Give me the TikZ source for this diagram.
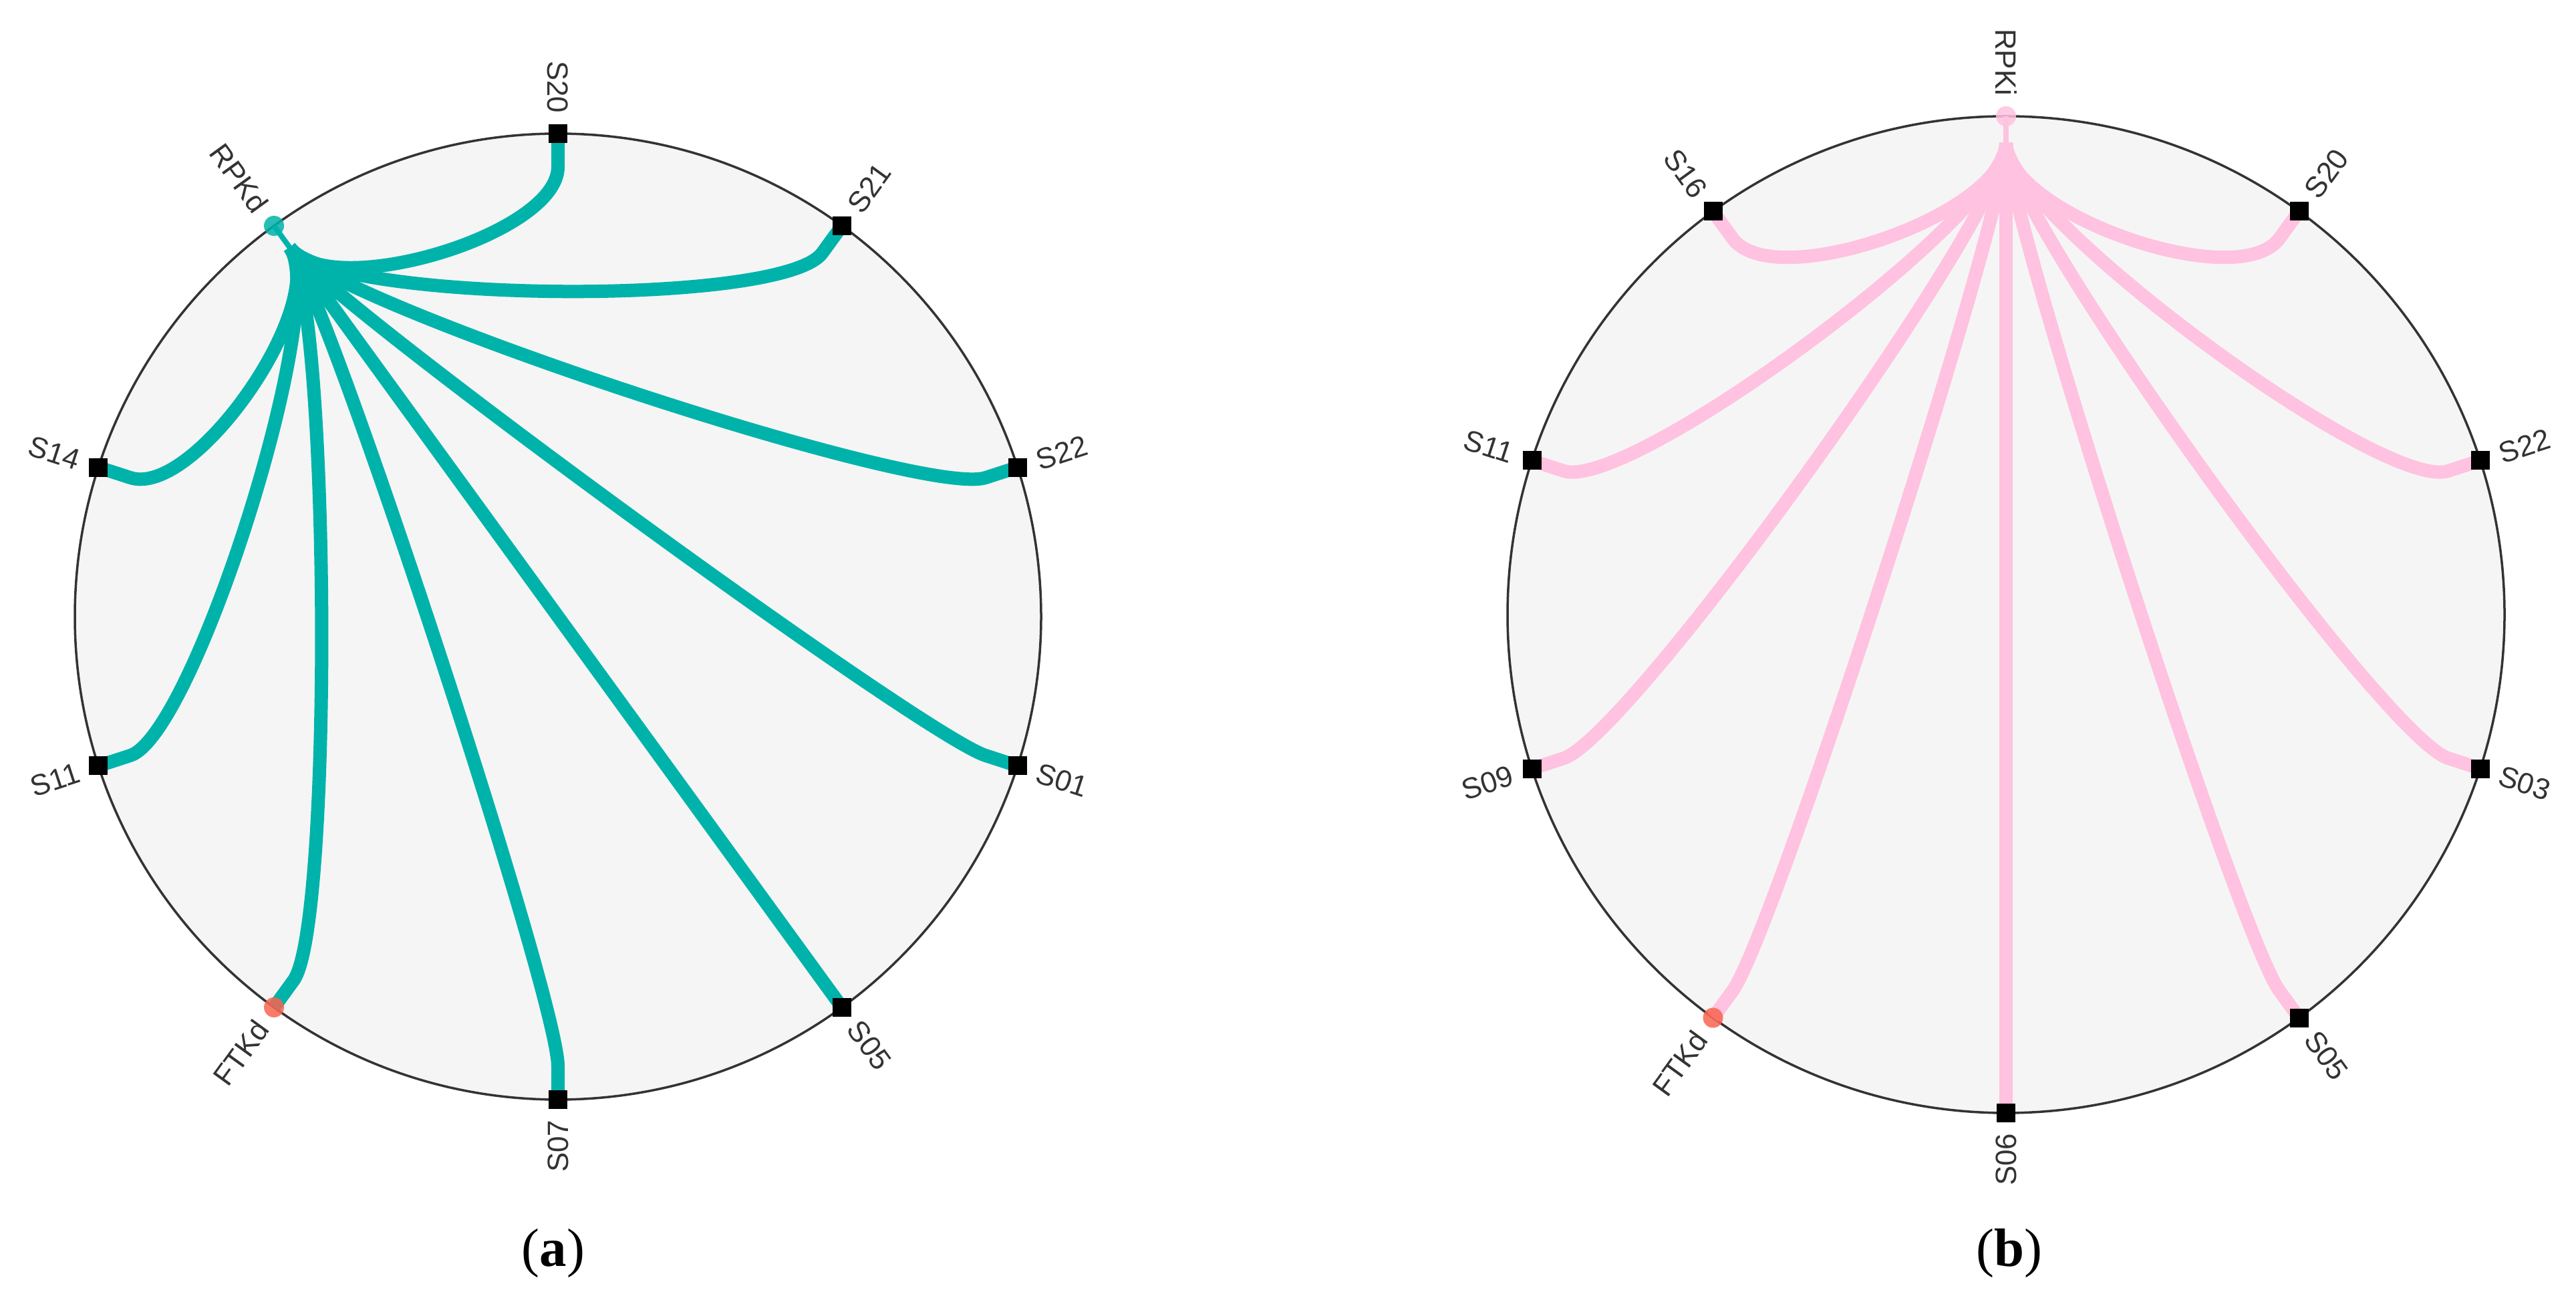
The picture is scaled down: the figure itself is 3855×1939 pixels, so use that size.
\documentclass[tikz,border=0pt]{standalone}
\usepackage{fontspec}
\setmainfont{Liberation Serif}
\newfontfamily\labelfont{Liberation Sans}
\usetikzlibrary{calc}
\definecolor{tealE}{RGB}{0,179,170}
\definecolor{pinkE}{RGB}{255,194,224}
\definecolor{ftkC}{RGB}{250,100,80}
\definecolor{ringC}{RGB}{51,51,51}
\definecolor{discC}{RGB}{245,245,245}
\definecolor{labC}{RGB}{51,51,51}
\begin{document}
\begin{tikzpicture}[x=0.01cm,y=0.01cm,
  disc/.style={fill=discC, draw=ringC, line width=0.035cm},
  sq/.style={rectangle, fill=black, draw=none, minimum size=0.28cm, inner sep=0pt, outer sep=0pt},
  dot/.style={circle, draw=none, minimum size=0.30cm, inner sep=0pt, outer sep=0pt, fill opacity=0.85},
  lbl/.style={font=\labelfont\fontsize{12.5}{15}\selectfont, text=labC, inner sep=0pt},
  captxt/.style={font=\fontsize{23}{27}\selectfont, anchor=base, inner sep=0pt},
  edgeA/.style={draw=tealE, line width=0.20cm, line join=round},
  edgeB/.style={draw=pinkE, line width=0.20cm, line join=round},
  neckA/.style={draw=tealE, line width=0.08cm},
  neckB/.style={draw=pinkE, line width=0.08cm}
]
\useasboundingbox (0,0) rectangle (3855,1939);
\fill[white] (0,0) rectangle (3855,1939);

% ---------------- (a) ----------------
\coordinate (Oa) at (835,1016);
\draw[disc] (Oa) circle (723);
\coordinate (a-H) at ($(Oa)+(126:683)$);
\node[sq] (a-S22) at ($(Oa)+(18:723)$) {};
\node[sq] (a-S21) at ($(Oa)+(54:723)$) {};
\node[sq] (a-S20) at ($(Oa)+(90:723)$) {};
\node[sq] (a-S14) at ($(Oa)+(162:723)$) {};
\node[sq] (a-S11) at ($(Oa)+(198:723)$) {};
\node[sq] (a-S07) at ($(Oa)+(270:723)$) {};
\node[sq] (a-S05) at ($(Oa)+(306:723)$) {};
\node[sq] (a-S01) at ($(Oa)+(342:723)$) {};
\coordinate (a-RPKdpos) at ($(Oa)+(126:723)$);
\coordinate (a-FTKdpos) at ($(Oa)+(234:723)$);

\draw[neckA] (a-RPKdpos) -- (a-H);
\foreach \ang/\nm in {18/S22,54/S21,90/S20,162/S14,198/S11,270/S07,306/S05,342/S01}{
  \draw[edgeA] (a-H) .. controls ($(Oa)+(126:580.6)$) and ($(Oa)+(\ang:572)$) .. ($(Oa)+(\ang:673)$) -- (a-\nm.center);
}
\draw[edgeA] (a-H) .. controls ($(Oa)+(126:580.6)$) and ($(Oa)+(234:572)$) .. ($(Oa)+(234:673)$) -- (a-FTKdpos);
\foreach \ang/\nm in {18/S22,54/S21,90/S20,162/S14,198/S11,270/S07,306/S05,342/S01}{
  \node[sq] at (a-\nm) {};
}
\node[dot, fill=tealE] (a-RPKd) at (a-RPKdpos) {};
\node[dot, fill=ftkC] (a-FTKd) at (a-FTKdpos) {};

\foreach \ang/\nm/\rot/\anc in {18/S22/18/west,54/S21/54/west,90/S20/-90/east,126/RPKd/-54/east,162/S14/-18/east,198/S11/18/east,234/FTKd/54/east,270/S07/90/east,306/S05/-54/west,342/S01/-18/west}{
  \node[lbl, rotate=\rot, anchor=\anc] (a-lbl-\nm) at ($(Oa)+(\ang:753)$) {\nm};
}
\node[captxt] (capa) at (828,44) {(\textbf{a})};

% ---------------- (b) ----------------
\coordinate (Ob) at (3002,1019);
\draw[disc] (Ob) circle (746);
\coordinate (b-H) at ($(Ob)+(90:706)$);
\node[sq] (b-S20) at ($(Ob)+(54:746)$) {};
\node[sq] (b-S22) at ($(Ob)+(18:746)$) {};
\node[sq] (b-S16) at ($(Ob)+(126:746)$) {};
\node[sq] (b-S11) at ($(Ob)+(162:746)$) {};
\node[sq] (b-S09) at ($(Ob)+(198:746)$) {};
\node[sq] (b-S06) at ($(Ob)+(270:746)$) {};
\node[sq] (b-S05) at ($(Ob)+(306:746)$) {};
\node[sq] (b-S03) at ($(Ob)+(342:746)$) {};
\coordinate (b-RPKipos) at ($(Ob)+(90:746)$);
\coordinate (b-FTKdpos) at ($(Ob)+(234:746)$);

\draw[neckB] (b-RPKipos) -- (b-H);
\foreach \ang/\nm in {18/S22,54/S20,126/S16,162/S11,198/S09,270/S06,306/S05,342/S03}{
  \draw[edgeB] (b-H) .. controls ($(Ob)+(90:600.1)$) and ($(Ob)+(\ang:591.6)$) .. ($(Ob)+(\ang:696)$) -- (b-\nm.center);
}
\draw[edgeB] (b-H) .. controls ($(Ob)+(90:600.1)$) and ($(Ob)+(234:591.6)$) .. ($(Ob)+(234:696)$) -- (b-FTKdpos);
\foreach \ang/\nm in {18/S22,54/S20,126/S16,162/S11,198/S09,270/S06,306/S05,342/S03}{
  \node[sq] at (b-\nm) {};
}
\node[dot, fill=pinkE] (b-RPKi) at (b-RPKipos) {};
\node[dot, fill=ftkC] (b-FTKd) at (b-FTKdpos) {};

\foreach \ang/\nm/\rot/\anc in {18/S22/18/west,54/S20/54/west,90/RPKi/-90/east,126/S16/-54/east,162/S11/-18/east,198/S09/18/east,234/FTKd/54/east,270/S06/90/east,306/S05/-54/west,342/S03/-18/west}{
  \node[lbl, rotate=\rot, anchor=\anc] (b-lbl-\nm) at ($(Ob)+(\ang:776)$) {\nm};
}
\node[captxt] (capb) at (3007,44) {(\textbf{b})};
\end{tikzpicture}
\end{document}
